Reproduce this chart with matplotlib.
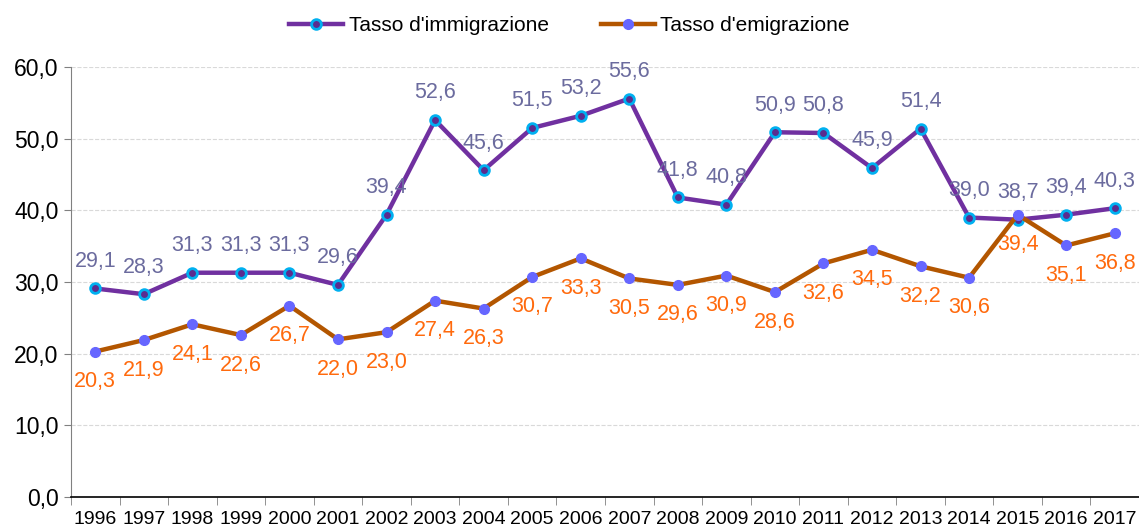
import matplotlib.pyplot as plt
import numpy as np

plt.rcParams['font.family'] = ['Liberation Sans', 'DejaVu Sans']

years = [str(y) for y in range(1996, 2018)]
immigrazione = [29.1, 28.3, 31.3, 31.3, 31.3, 29.6, 39.4, 52.6, 45.6, 51.5, 53.2,
                55.6, 41.8, 40.8, 50.9, 50.8, 45.9, 51.4, 39.0, 38.7, 39.4, 40.3]
emigrazione = [20.3, 21.9, 24.1, 22.6, 26.7, 22.0, 23.0, 27.4, 26.3, 30.7, 33.3,
               30.5, 29.6, 30.9, 28.6, 32.6, 34.5, 32.2, 30.6, 39.4, 35.1, 36.8]

fig = plt.figure(figsize=(11.39, 5.28), dpi=100)
ax = fig.add_axes([0.0623, 0.0587, 0.9377, 0.8143])

x = np.arange(len(years))
ax.plot(x, immigrazione, color='#7030A0', lw=3.2, marker='o', ms=7,
        mfc='#5B2C8F', mec='#00B0F0', mew=2, label="Tasso d'immigrazione", zorder=3)
ax.plot(x, emigrazione, color='#B35600', lw=3.2, marker='o', ms=7,
        mfc='#6666FF', mec='#6666FF', label="Tasso d'emigrazione", zorder=4)

for xi, v in zip(x, immigrazione):
    ax.annotate(f"{v:.1f}".replace('.', ','), (xi, v), xytext=(0, 12),
                textcoords='offset points', ha='center', va='bottom',
                fontsize=15.5, color='#6B6B9E')
for xi, v in zip(x, emigrazione):
    ax.annotate(f"{v:.1f}".replace('.', ','), (xi, v), xytext=(0, -14),
                textcoords='offset points', ha='center', va='top',
                fontsize=15.5, color='#FF6A0D')

ax.set_xlim(-0.5, len(years) - 0.5)
ax.set_ylim(0, 60)
ax.set_yticks(np.arange(0, 61, 10))
ax.set_yticklabels([f"{v:.1f}".replace('.', ',') for v in np.arange(0, 61, 10)],
                   fontsize=16.5)
ax.set_xticks(x)
ax.set_xticklabels(years, fontsize=14)
ax.set_xticks(np.arange(-0.5, len(years), 1), minor=True)
ax.tick_params(axis='x', which='major', length=0, pad=10)
ax.tick_params(axis='x', which='minor', length=6, color='#808080', direction='out')
ax.tick_params(axis='y', length=5, color='#808080', pad=4)

ax.grid(axis='y', color='#D9D9D9', lw=0.8, ls='--')
ax.set_axisbelow(True)
for s in ['top', 'right']:
    ax.spines[s].set_visible(False)
ax.spines['left'].set_color('#808080')
ax.spines['bottom'].set_color('black')
ax.spines['bottom'].set_linewidth(1.2)

fig.legend(loc='upper center', bbox_to_anchor=(0.5, 1.005), ncol=2, frameon=False,
           fontsize=15, handlelength=2.6, handletextpad=0.25, columnspacing=2.5)

plt.savefig("out.png", dpi=100)
